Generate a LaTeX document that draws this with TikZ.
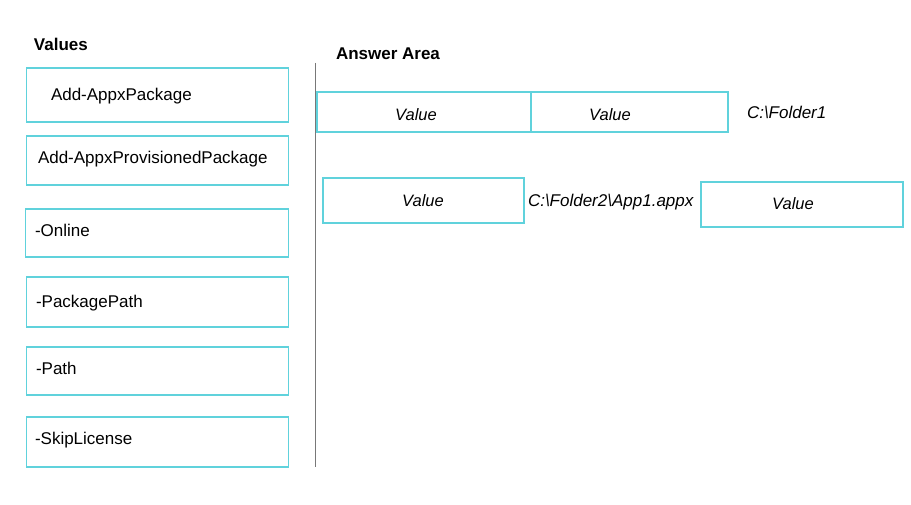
\documentclass[tikz,border=0pt]{standalone}
\usepackage{fontspec}
\setmainfont{Liberation Sans}
\definecolor{boxc}{RGB}{96,210,220}
\definecolor{rulec}{RGB}{120,120,120}
\begin{document}
\begin{tikzpicture}[x=1pt,y=-1pt,
  box/.style={draw=boxc, line width=1.2pt, anchor=north west, inner sep=0pt, outer sep=0pt},
  lbl/.style={anchor=base west, inner sep=0pt, outer sep=0pt, font=\fontsize{17}{20}\selectfont},
  ilbl/.style={anchor=base, inner sep=0pt, outer sep=0pt, font=\fontsize{16.5}{20}\selectfont\itshape},
  ipath/.style={anchor=base west, inner sep=0pt, outer sep=0pt, font=\fontsize{17}{20}\selectfont\itshape},
  head/.style={anchor=base west, inner sep=0pt, outer sep=0pt, font=\fontsize{17}{20}\selectfont\bfseries}]
\useasboundingbox[fill=white] (0,0) rectangle (911,505);
% headers
\node[head] (hv) at (34,51) {Values};
\node[head] (ha) at (336,60) {Answer Area};
% divider
\coordinate (dtop) at (315,63);
\coordinate (dbot) at (315,467);
\draw[rulec, line width=0.9pt] (dtop) -- (dbot);
% left column boxes
\node[box, minimum width=262pt, minimum height=54pt] (b1) at (26.5,68) {};
\node[box, minimum width=262pt, minimum height=49pt] (b2) at (26.5,136) {};
\node[box, minimum width=263pt, minimum height=48pt] (b3) at (25.5,209) {};
\node[box, minimum width=262pt, minimum height=50pt] (b4) at (26.5,277) {};
\node[box, minimum width=262pt, minimum height=48pt] (b5) at (26.5,347) {};
\node[box, minimum width=262pt, minimum height=50pt] (b6) at (26.5,417) {};
\node[lbl] (t1) at (51,101) {Add-AppxPackage};
\node[lbl] (t2) at (38,164) {Add-AppxProvisionedPackage};
\node[lbl] (t3) at (35,237) {-Online};
\node[lbl] (t4) at (36,308) {-PackagePath};
\node[lbl] (t5) at (36,374) {-Path};
\node[lbl] (t6) at (35,444) {-SkipLicense};
% answer area row 1
\node[box, minimum width=214pt, minimum height=40pt] (a1) at (317,92) {};
\node[box, minimum width=197pt, minimum height=40pt] (a2) at (531,92) {};
\node[ilbl] (v1) at (416,121) {Value};
\node[ilbl] (v2) at (610,121) {Value};
\node[ipath] (f1) at (747,119) {C:\textbackslash Folder1};
% answer area row 2
\node[box, minimum width=201pt, minimum height=45pt] (a3) at (323,178) {};
\node[ilbl] (v3) at (423,207) {Value};
\node[ipath] (f2) at (528,207) {C:\textbackslash Folder2\textbackslash App1.appx};
\node[box, minimum width=202pt, minimum height=45pt] (a4) at (701,182) {};
\node[ilbl] (v4) at (793,210) {Value};
\end{tikzpicture}
\end{document}
